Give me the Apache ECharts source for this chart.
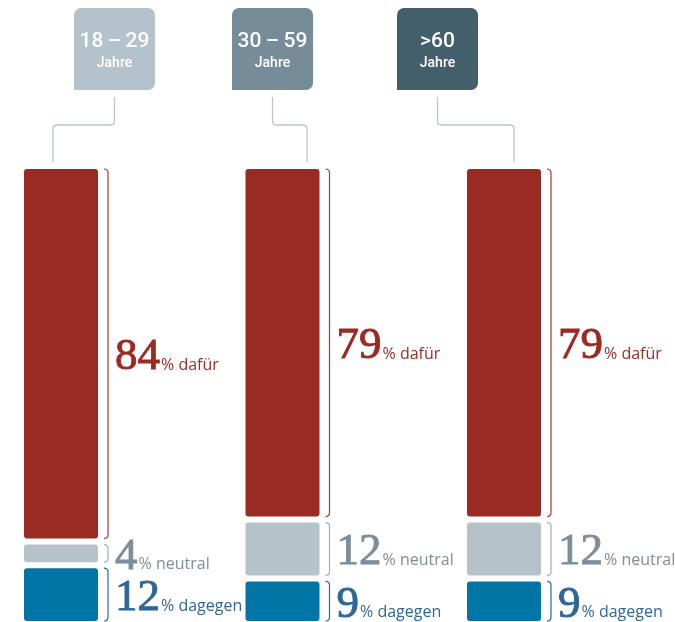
<!DOCTYPE html>
<html><head><meta charset="utf-8">
<script src="https://cdn.jsdelivr.net/npm/echarts@6/dist/echarts.min.js"></script>
<style>html,body{margin:0;padding:0;background:#fff}#c{width:675px;height:622px}</style>
</head><body><div id="c"></div>
<script>
// ---- data ----
const groups = ['18\u2009–\u200929', '30\u2009–\u200959', '>60'];
const unitLabel = 'Jahre';
const segmentNames = ['dafür', 'neutral', 'dagegen'];
const dafuer = [84, 79, 79];
const neutral = [4, 12, 12];
const dagegen = [12, 9, 9];

// ---- styles / layout ----
const barColors = ['#992b23', '#b5c2ca', '#0175a5'];
const bracketColors = ['#a63a31', '#9fadb6', '#2a6a9c'];
const textColors = ['#9a2a22', '#7c8e99', '#2e6697'];
const boxColors = ['#b3c2cb', '#768c98', '#435f6b'];
const boxLeft = [74, 232, 397];
const connectorTarget = [53, 307, 514];
const GAP = 6, BAR_W = 74;

const series = [dafuer, neutral, dagegen];
const data = [];
for (let g = 0; g < groups.length; g++) {
  let acc = 0;
  for (let s = 0; s < series.length; s++) {
    const v = series[s][g];
    data.push([g, acc, acc + v, s, v]);
    acc += v;
  }
}

const chart = echarts.init(document.getElementById('c'), null, {renderer: 'canvas'});

function renderItem(params, api) {
  const g = api.value(0), start = api.value(1), end = api.value(2), s = api.value(3), v = api.value(4);
  const cx = api.coord([g, 0])[0];
  const y0 = api.coord([g, start])[1] + s * GAP;
  const y1 = api.coord([g, end])[1] + s * GAP;
  const bx = cx + BAR_W / 2 + 10;
  const h = 4;
  return {
    type: 'group',
    children: [
      {type: 'rect', shape: {x: cx - BAR_W / 2, y: y0, width: BAR_W, height: y1 - y0, r: 3},
       style: {fill: barColors[s]}},
      {type: 'path', shape: {pathData:
        `M ${bx - 4} ${y0} Q ${bx} ${y0} ${bx} ${y0 + h} L ${bx} ${y1 - h} Q ${bx} ${y1} ${bx - 4} ${y1}`},
       style: {fill: null, stroke: bracketColors[s], lineWidth: 1.2}},
      {type: 'text', x: bx + 7, y: (y0 + y1) / 2 + 4,
       style: {
         text: `{b|${v}}{s|% ${segmentNames[s]}}`,
         align: 'left', verticalAlign: 'middle',
         rich: {
           b: {fontFamily: 'Liberation Serif', fontSize: 45, lineHeight: 44, verticalAlign: 'bottom', fill: textColors[s], fontWeight: 'normal',
               stroke: textColors[s], lineWidth: 0.9},
           s: {fontFamily: 'Open Sans', fontSize: 16, lineHeight: 16, verticalAlign: 'bottom', fill: textColors[s], padding: [0, 0, 6.5, 1]}
         }
       }}
    ]
  };
}

function renderHeader(params, api) {
  const i = api.value(0);
  const x = boxLeft[i], w = 81, top = 8, hgt = 82;
  const cxb = x + w / 2;
  const t = connectorTarget[i], yMid = 125, r = 4;
  const dir = t < cxb ? -1 : 1;
  return {
    type: 'group',
    children: [
      {type: 'rect', shape: {x: x, y: top, width: w, height: hgt, r: [7, 7, 7, 0]}, style: {fill: boxColors[i]}},
      {type: 'text', x: cxb, y: 42, style: {text: groups[i], fill: '#fff', font: '500 21px Roboto', align: 'center', verticalAlign: 'middle'}},
      {type: 'text', x: cxb, y: 63, style: {text: unitLabel, fill: '#fff', font: '500 14px Roboto', align: 'center', verticalAlign: 'middle'}},
      {type: 'path', shape: {pathData:
        `M ${cxb} 97 L ${cxb} ${yMid - r} Q ${cxb} ${yMid} ${cxb + dir * r} ${yMid} L ${t - dir * r} ${yMid} Q ${t} ${yMid} ${t} ${yMid + r} L ${t} 162`},
       style: {fill: null, stroke: '#b8c6ce', lineWidth: 1.3}}
    ]
  };
}

chart.setOption({
  animation: false,
  grid: {left: 61, right: 171, top: 169, bottom: 13},
  xAxis: {type: 'category', data: groups, boundaryGap: false, show: false},
  yAxis: {type: 'value', min: 0, max: 100, inverse: true, show: false},
  series: [
    {type: 'custom', renderItem: renderItem, data: data, clip: false, encode: {x: 0, y: [1, 2]}},
    {type: 'custom', renderItem: renderHeader, data: groups.map((_, i) => [i, 0]), clip: false, encode: {x: 0, y: 1}}
  ]
});
</script></body></html>
